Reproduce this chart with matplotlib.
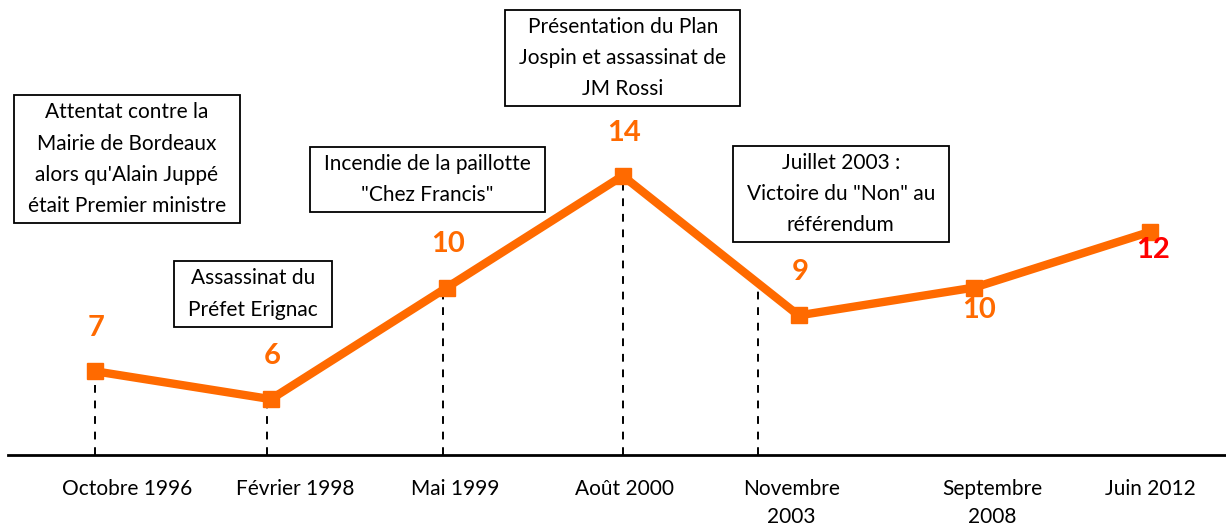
import numpy as np
import matplotlib.pyplot as plt
from matplotlib.patches import Rectangle

plt.rcParams['font.family'] = ['Lato', 'DejaVu Sans']

# --- données ---
dates = ["Octobre 1996", "Février 1998", "Mai 1999", "Août 2000",
         "Novembre\n2003", "Septembre\n2008", "Juin 2012"]
valeurs = [7, 6, 10, 14, 9, 10, 12]

evenements = [
    "Attentat contre la\nMairie de Bordeaux\nalors qu'Alain Juppé\nétait Premier ministre",
    "Assassinat du\nPréfet Erignac",
    "Incendie de la paillotte\n\"Chez Francis\"",
    "Présentation du Plan\nJospin et assassinat de\nJM Rossi",
    "Juillet 2003 :\nVictoire du \"Non\" au\nréférendum",
]

ORANGE = "#FF6A00"
ROUGE = "#FF0000"

# position (x, y en données) des encadrés
box_pos = [(0.18, 14.6), (0.90, 9.77), (1.89, 13.86), (3.0, 18.23), (4.24, 13.35)]
# x des pointillés verticaux
dash_x = [0.0, 0.98, 1.98, 3.0, 3.77]
# décalage des étiquettes de l'axe x
label_x = [0.18, 1.14, 2.05, 3.01, 3.96, 5.10, 6.0]

fig = plt.figure(figsize=(12.26, 5.27), dpi=100)
ax = fig.add_axes([8 / 1226, 72 / 527, 1218 / 1226, 455 / 527])

x = np.arange(len(valeurs))
ax.plot(x, valeurs, color=ORANGE, lw=6, marker="s", ms=12,
        solid_joinstyle="miter", zorder=3)

ax.set_xlim(-0.495, 6.43)
ax.set_ylim(4, 20.3)

# pointillés verticaux
for dx in dash_x:
    top = np.interp(dx, x, valeurs)
    ax.plot([dx, dx], [4, top], color="black", lw=1.4, ls=(0, (4, 4)), zorder=2)

# étiquettes de valeurs
for i, v in enumerate(valeurs):
    if i == 5:
        ax.annotate(f"{v}", (i, v), xytext=(3, -16), textcoords="offset points",
                    ha="center", va="center", color=ORANGE, fontsize=21, fontweight="bold")
    elif i == 6:
        ax.annotate(f"{v}", (i, v), xytext=(2, -13), textcoords="offset points",
                    ha="center", va="center", color=ROUGE, fontsize=21, fontweight="bold")
    else:
        ax.annotate(f"{v}", (i, v), xytext=(1, 31), textcoords="offset points",
                    ha="center", va="center", color=ORANGE, fontsize=21, fontweight="bold")

# encadrés d'événements (cadre dessiné après coup : marge horizontale > verticale)
textes = []
for (bx, by), txt in zip(box_pos, evenements):
    t = ax.text(bx, by, txt, ha="center", va="center", fontsize=15, linespacing=1.7,
                zorder=5)
    textes.append(t)

# axe
for s in ["top", "right", "left"]:
    ax.spines[s].set_visible(False)
ax.spines["bottom"].set_linewidth(2)
ax.set_yticks([])
ax.set_xticks(label_x)
ax.set_xticklabels(dates, fontsize=15, va="top", linespacing=1.55)
ax.tick_params(axis="x", length=0, pad=17)

fig.canvas.draw()
r = fig.canvas.get_renderer()
inv = ax.transData.inverted()
for t in textes:
    bb = t.get_window_extent(r)
    (x0, y0), (x1, y1) = inv.transform([(bb.x0 - 14, bb.y0 - 7), (bb.x1 + 14, bb.y1 + 7)])
    ax.add_patch(Rectangle((x0, y0), x1 - x0, y1 - y0, fc="white", ec="black",
                           lw=1.3, zorder=4, clip_on=False))

fig.savefig("out.png", dpi=100)
